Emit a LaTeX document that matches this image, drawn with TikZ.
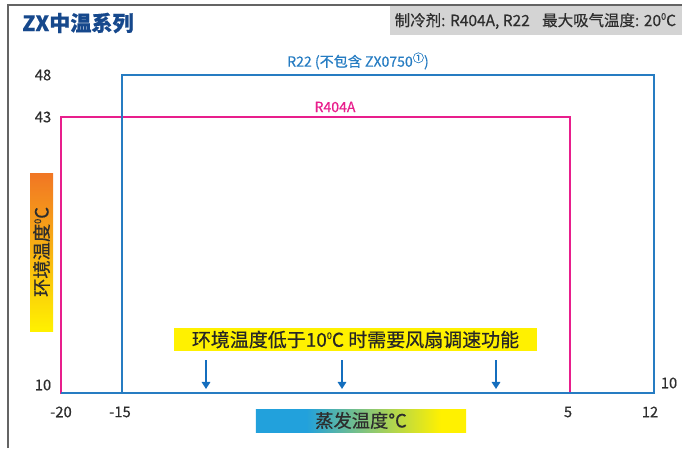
\documentclass[tikz,border=0pt]{standalone}
\usepackage{fontspec}
\setmainfont{Noto Sans CJK SC}[FakeBold=0.5]
\usepackage{tikz}
\usetikzlibrary{positioning,arrows.meta,shapes}

\definecolor{rtwoblue}{RGB}{38,124,194}
\definecolor{rpink}{RGB}{232,30,140}
\definecolor{titleblue}{RGB}{22,72,140}
\definecolor{headgray}{RGB}{212,212,212}
\definecolor{framegray}{RGB}{100,100,100}
\definecolor{textgray}{RGB}{45,45,45}
\definecolor{arrowblue}{RGB}{20,110,190}
\definecolor{bannyellow}{RGB}{255,241,0}
\definecolor{axisorange}{RGB}{241,118,36}
\definecolor{axiscyan}{RGB}{34,161,220}

\pgfdeclarehorizontalshading{evapshade}{100bp}{color(0bp)=(axiscyan); color(37bp)=(axiscyan); color(69bp)=(bannyellow); color(100bp)=(bannyellow)}

\newcommand{\degsup}{\raisebox{0.75ex}{\fontsize{6.5}{7}\selectfont 0}}

\tikzset{
  ticklabel/.style={text=textgray, font=\fontsize{10.5}{12}\selectfont, inner sep=1pt},
  fanarrow/.style={arrowblue, line width=1.4pt, -{Triangle[length=5pt,width=6pt]}},
  axislabel/.style={inner sep=0pt, text=textgray, font=\fontsize{13}{15}\selectfont}
}

\begin{document}
\begin{tikzpicture}[x=0.025cm, y=-0.025cm]
  \useasboundingbox (0,0) rectangle (682,448);
  % header
  \fill[headgray] (390,5) rectangle (682,35);
  \draw[framegray, line width=1.2pt] (8,448) -- (8,5) -- (682,5);
  \node[font=\fontsize{15}{18}\selectfont\bfseries, text=titleblue] (title) at (78,23) {ZX中温系列};
  \node[anchor=east, text=textgray, font=\fontsize{11}{13}\selectfont] (refrig) at (681,21) {制冷剂: R404A, R22\hspace{0.8em}最大吸气温度: 20\degsup C};

  % envelopes
  \draw[rpink, line width=1.3pt] (61,117) rectangle (570,393);
  \draw[rtwoblue, line width=1.3pt] (122,75) rectangle (654,393);
  \draw[rtwoblue, line width=1.3pt] (61,393) -- (654,393);
  \node[text=rtwoblue, font=\fontsize{10}{12}\selectfont] (rtwolabel) at (358,61) {R22 (不包含 ZX0750\raisebox{0.6ex}{\fontsize{8}{8}\selectfont ①})};
  \node[text=rpink, font=\fontsize{10}{12}\selectfont] (rfourlabel) at (335,107) {R404A};

  % ticks
  \node[ticklabel] (yfortyeight) at (43,75) {48};
  \node[ticklabel] (yfortythree) at (43,117) {43};
  \node[ticklabel] (yten) at (43,385) {10};
  \node[ticklabel] (ytenright) at (669,383) {10};
  \node[ticklabel] (xminustwenty) at (61,412) {-20};
  \node[ticklabel] (xminusfifteen) at (120,412) {-15};
  \node[ticklabel] (xfive) at (568,412) {5};
  \node[ticklabel] (xtwelve) at (650,412) {12};

  % axis titles
  \shade[top color=axisorange, bottom color=bannyellow] (30,173) rectangle (53,331);
  \node[axislabel, rotate=90] (ambient) at (41.5,252) {环境温度\degsup C};
  \node[axislabel, shading=evapshade, minimum width=5.25cm, minimum height=0.575cm] (evap) at (361,420.5) {蒸发温度°C};

  % fan speed control
  \node[fill=bannyellow, minimum width=9.08cm, minimum height=0.58cm, inner sep=0pt, text=black!85, font=\fontsize{13.5}{15}\selectfont] (fanbanner) at (355.5,339.5) {环境温度低于10\degsup C 时需要风扇调速功能};
  \foreach \ax [count=\i] in {206,342,496} {
    \coordinate (fantop\i) at (\ax,360);
    \coordinate (fanend\i) at (\ax,389);
    \draw[fanarrow] (fantop\i) -- (fanend\i);
  }
\end{tikzpicture}
\end{document}
